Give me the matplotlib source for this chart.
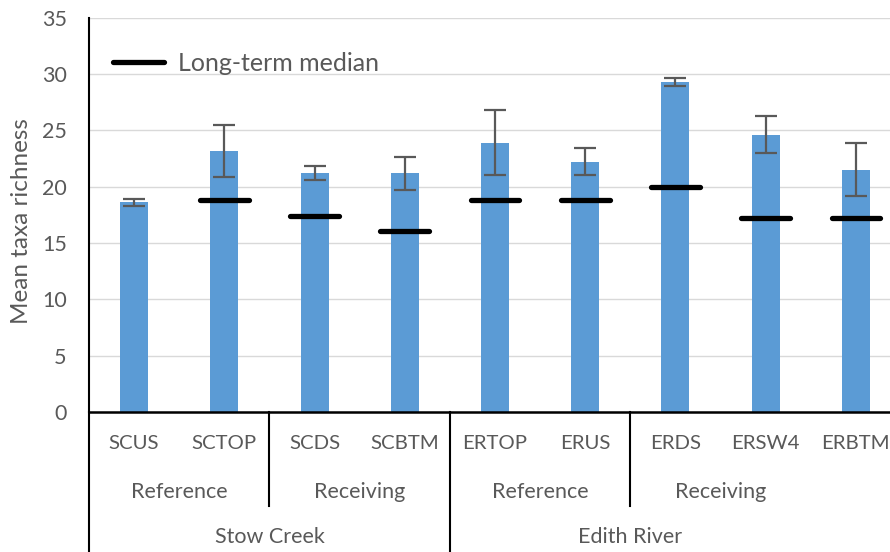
import numpy as np
import matplotlib
matplotlib.use("Agg")
import matplotlib.pyplot as plt
from matplotlib.lines import Line2D

# --- DATA ---
sites = ["SCUS", "SCTOP", "SCDS", "SCBTM", "ERTOP", "ERUS", "ERDS", "ERSW4", "ERBTM"]
site_type = ["Reference", "Receiving", "Reference", "Receiving"]
creeks = ["Stow Creek", "Edith River"]

mean_richness = [18.6, 23.2, 21.2, 21.2, 23.9, 22.2, 29.3, 24.6, 21.5]
std_error = [0.3, 2.3, 0.65, 1.45, 2.9, 1.2, 0.33, 1.65, 2.35]
median_richness = [np.nan, 18.8, 17.4, 16.1, 18.8, 18.8, 20.0, 17.2, 17.2]

TEXT = "#595959"
BAR = "#5B9BD5"
plt.rcParams["font.family"] = ["Lato", "DejaVu Sans"]

fig = plt.figure(figsize=(8.9, 5.52), dpi=100)
# axes run a little past the right edge of the figure
ax = fig.add_axes([89 / 890, 140 / 552, 812 / 890, 394.3 / 552])

x = np.arange(len(sites))
ax.bar(x, mean_richness, width=0.31, color=BAR, zorder=2,
       yerr=std_error,
       error_kw=dict(ecolor=TEXT, elinewidth=1.6, capsize=8, capthick=1.6, zorder=3))

med = np.array(median_richness)
ok = ~np.isnan(med)
lines = ax.hlines(med[ok], x[ok] - 0.27, x[ok] + 0.27, color="black", linewidth=3.8, zorder=4)
lines.set_capstyle("round")

ax.set_xlim(-0.5, len(sites) - 0.5)
ax.set_ylim(0, 35)
ax.set_yticks(np.arange(0, 36, 5))
ax.yaxis.grid(True, color="#d9d9d9", linewidth=1)
ax.set_axisbelow(True)
ax.tick_params(axis="y", length=0, pad=16, labelsize=15.5, labelcolor=TEXT)
ax.set_xticks([])
for s in ["top", "right"]:
    ax.spines[s].set_visible(False)
ax.spines["bottom"].set_linewidth(1.8)
ax.spines["left"].set_linewidth(1.5)
ax.set_ylabel("Mean taxa richness", fontsize=17.5, color=TEXT)
ax.yaxis.set_label_coords(-0.07, 0.484)

# three-level category axis
tr = ax.get_xaxis_transform()
for i, s in enumerate(sites):
    ax.text(i, -0.079, s, transform=tr, ha="center", va="center", fontsize=14.7, color=TEXT)
for j, t in enumerate(site_type):
    ax.text(2 * j + 0.5, -0.203, t, transform=tr, ha="center", va="center", fontsize=15.5, color=TEXT)
for k, c in enumerate(creeks):
    ax.text(4 * k + 1.5, -0.317, c, transform=tr, ha="center", va="center", fontsize=15.5, color=TEXT)

for b in [1.5, 5.5]:
    ax.add_line(Line2D([b, b], [0, -0.238], transform=tr, color="black", lw=1.5, clip_on=False))
for b in [-0.5, 3.5, 8.5]:
    ax.add_line(Line2D([b, b], [0, -0.4], transform=tr, color="black", lw=1.5, clip_on=False))

handle = Line2D([], [], color="black", lw=3.8, solid_capstyle="round")
ax.legend([handle], ["Long-term median"], loc="center left", bbox_to_anchor=(0.029, 0.885),
          frameon=False, fontsize=18, labelcolor=TEXT, borderpad=0, borderaxespad=0,
          handlelength=2.05, handletextpad=0.55)

fig.savefig("out.png", dpi=100)
